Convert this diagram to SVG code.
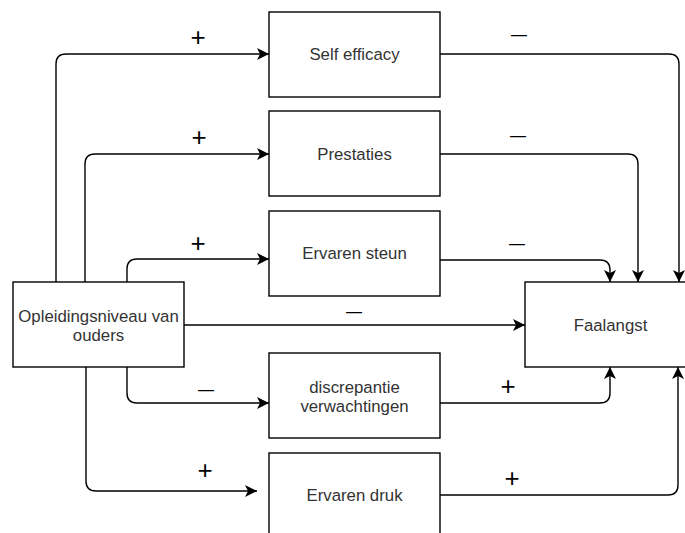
<svg xmlns="http://www.w3.org/2000/svg" width="685" height="533" viewBox="0 0 685 533">
<style>
.box{fill:#fff;stroke:#000;stroke-width:1.4}
.t{font-family:"Liberation Sans",Arial,sans-serif;font-size:16.8px;fill:#333;text-anchor:middle}
.e{fill:none;stroke:#000;stroke-width:1.4}
.s{font-family:"Liberation Sans",Arial,sans-serif;fill:#000;text-anchor:middle}
</style>
<defs>
<marker id="a" markerUnits="userSpaceOnUse" markerWidth="14" markerHeight="12" refX="12" refY="6" orient="auto">
<path d="M0,0 L12,6 L0,12 L3,6 Z" fill="#000"/>
</marker>
</defs>
<g id="connectors">
<path class="e" marker-end="url(#a)" d="M56,282 V64 Q56,54 66,54 H269"/>
<path class="e" marker-end="url(#a)" d="M85,282 V164 Q85,154 95,154 H269"/>
<path class="e" marker-end="url(#a)" d="M127,282 V269 Q127,259 137,259 H269"/>
<path class="e" marker-end="url(#a)" d="M184,325 H525"/>
<path class="e" marker-end="url(#a)" d="M127,367 V393 Q127,403 137,403 H269"/>
<path class="e" marker-end="url(#a)" d="M86,367 V481 Q86,491 96,491 H257"/>
<path class="e" marker-end="url(#a)" d="M440,54 H669 Q679,54 679,64 V282"/>
<path class="e" marker-end="url(#a)" d="M440,154 H628 Q638,154 638,164 V282"/>
<path class="e" marker-end="url(#a)" d="M440,260 H600 Q610,260 610,270 V282"/>
<path class="e" marker-end="url(#a)" d="M440,403 H600 Q610,403 610,393 V367"/>
<path class="e" marker-end="url(#a)" d="M440,495 H668 Q678,495 678,485 V367"/>
<text class="s" x="198" y="46" font-size="26">+</text>
<text class="s" x="199" y="146" font-size="26">+</text>
<text class="s" x="198" y="252" font-size="26">+</text>
<text class="s" x="354" y="317" font-size="16">—</text>
<text class="s" x="206" y="395" font-size="16">—</text>
<text class="s" x="205" y="479" font-size="26">+</text>
<text class="s" x="519" y="40" font-size="16">—</text>
<text class="s" x="518" y="141" font-size="16">—</text>
<text class="s" x="517" y="249" font-size="16">—</text>
<text class="s" x="508" y="395" font-size="26">+</text>
<text class="s" x="512" y="487" font-size="26">+</text>
</g>
<g id="self-efficacy"><rect class="box" x="269" y="12" width="171" height="85"/><text class="t" x="354.5" y="60">Self efficacy</text></g>
<g id="prestaties"><rect class="box" x="269" y="111" width="171" height="85"/><text class="t" x="354.5" y="160">Prestaties</text></g>
<g id="ervaren-steun"><rect class="box" x="269" y="211" width="171" height="85"/><text class="t" x="354.5" y="259">Ervaren steun</text></g>
<g id="discrepantie"><rect class="box" x="269" y="353" width="171" height="85"/><text class="t" x="354.5" y="393">discrepantie</text><text class="t" x="354.5" y="412">verwachtingen</text></g>
<g id="ervaren-druk"><rect class="box" x="269" y="453" width="171" height="85"/><text class="t" x="354.5" y="501">Ervaren druk</text></g>
<g id="opleidingsniveau"><rect class="box" x="13" y="282" width="171" height="85"/><text class="t" x="98.5" y="322">Opleidingsniveau van</text><text class="t" x="98.5" y="341">ouders</text></g>
<g id="faalangst"><rect class="box" x="525" y="282" width="171" height="85"/><text class="t" x="610.5" y="331">Faalangst</text></g>
</svg>
